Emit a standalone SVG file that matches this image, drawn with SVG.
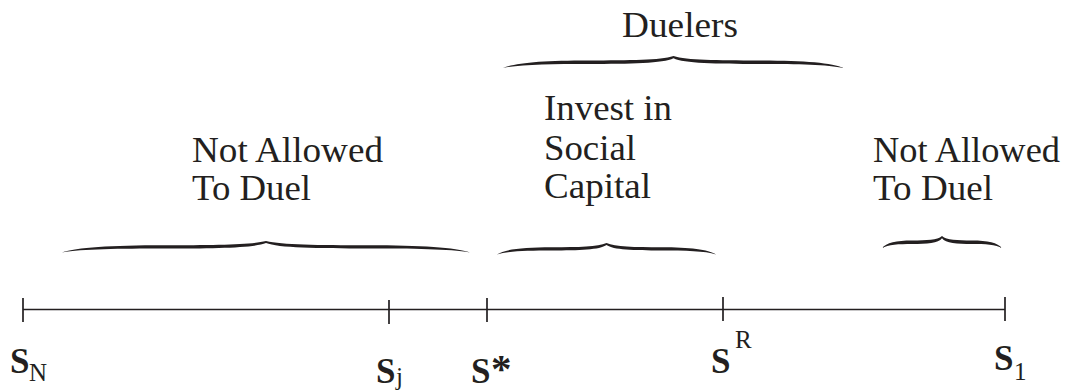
<svg xmlns="http://www.w3.org/2000/svg" xmlns:xlink="http://www.w3.org/1999/xlink" width="1065" height="391" viewBox="0 0 1065 391">
<style>
.lbl{font-family:"Liberation Serif","Times New Roman",Times,serif;font-size:35px;fill:#231f20}
.sym{font-family:"Liberation Serif","Times New Roman",Times,serif;font-size:35px;font-weight:bold;fill:#231f20}
.sub{font-family:"Liberation Serif","Times New Roman",Times,serif;font-size:25px;fill:#231f20}
.ast{font-family:"Liberation Serif","Times New Roman",Times,serif;font-size:41px;font-weight:bold;fill:#231f20}
.axis{stroke:#231f20;stroke-width:1.7;fill:none}
.brace{fill:#231f20}
</style>
<defs>
<path id="brace" d="M0,12 C7,6.6 24,4.4 50,4.4 C75,4.4 92,4.2 100,0 C108,4.2 125,4.4 150,4.4 C176,4.4 193,6.6 200,12 C190,8.4 172,7.9 150,7.9 C125,7.9 106,7.3 100,2.2 C94,7.3 75,7.9 50,7.9 C28,7.9 10,8.4 0,12 Z"/>
</defs>
<rect width="1065" height="391" fill="#ffffff"/>
<g id="connectors">
<g id="axis" class="axis">
<line x1="23" y1="309.5" x2="1005" y2="309.5"/>
<line x1="23" y1="298" x2="23" y2="322"/>
<line x1="389" y1="300" x2="389" y2="324"/>
<line x1="487" y1="298" x2="487" y2="322"/>
<line x1="723" y1="297" x2="723" y2="321"/>
<line x1="1005" y1="297" x2="1005" y2="321"/>
</g>
<g id="braces" class="brace">
<use xlink:href="#brace" transform="translate(62,241) scale(2.04,0.95)"/>
<use xlink:href="#brace" transform="translate(497,243) scale(1.095,0.95)"/>
<use xlink:href="#brace" transform="translate(882,236) scale(0.6,1)"/>
<use xlink:href="#brace" transform="translate(503,56) scale(1.705,1)"/>
</g>
</g>
<g id="duelers">
<text class="lbl" x="622" y="37" textLength="116" lengthAdjust="spacingAndGlyphs">Duelers</text>
</g>
<g id="not-allowed-left">
<text class="lbl" x="192" y="162" textLength="191" lengthAdjust="spacingAndGlyphs">Not Allowed</text>
<text class="lbl" x="192" y="200" textLength="119" lengthAdjust="spacingAndGlyphs">To Duel</text>
</g>
<g id="invest">
<text class="lbl" x="544" y="120" textLength="128" lengthAdjust="spacingAndGlyphs">Invest in</text>
<text class="lbl" x="544" y="160" textLength="92" lengthAdjust="spacingAndGlyphs">Social</text>
<text class="lbl" x="544" y="198" textLength="107" lengthAdjust="spacingAndGlyphs">Capital</text>
</g>
<g id="not-allowed-right">
<text class="lbl" x="873" y="162" textLength="187" lengthAdjust="spacingAndGlyphs">Not Allowed</text>
<text class="lbl" x="873" y="200" textLength="120" lengthAdjust="spacingAndGlyphs">To Duel</text>
</g>
<g id="label-sN">
<text class="sym" x="10" y="373">S</text>
<text class="sub" x="29" y="381">N</text>
</g>
<g id="label-sj">
<text class="sym" x="376" y="383">S</text>
<text class="sub" x="396" y="385">j</text>
</g>
<g id="label-sstar">
<text class="sym" x="471" y="383">S</text>
<text class="ast" x="491" y="382">*</text>
</g>
<g id="label-sR">
<text class="sym" x="711" y="373">S</text>
<text class="sub" x="735" y="348">R</text>
</g>
<g id="label-s1">
<text class="sym" x="994" y="370">S</text>
<text class="sub" x="1014" y="380">1</text>
</g>
</svg>
